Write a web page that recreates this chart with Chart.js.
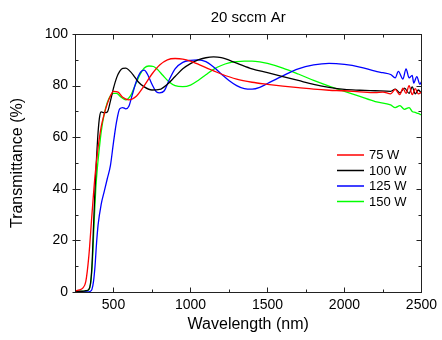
<!DOCTYPE html>
<html>
<head>
<meta charset="utf-8">
<script src="https://cdn.jsdelivr.net/npm/chart.js@4.4.1/dist/chart.umd.min.js"></script>
<style>
html,body{margin:0;padding:0;background:#fff;}
#wrap{width:442px;height:340px;}
</style>
</head>
<body>
<div id="wrap"><canvas id="c" width="442" height="340"></canvas></div>
<script>
// ---- data ----
const seriesLabels = ['75 W', '100 W', '125 W', '150 W'];
const seriesColors = ['#ff0000', '#000000', '#0000ff', '#00ff00'];

const wl75 = [250,280,300,320,340,360,380,400,420,440,460,480,500,530,560,600,650,700,750,800,850,900,950,1000,1100,1200,1300,1400,1500,1600,1700,1800,1900,2000,2100,2200,2250,2300,2330,2360,2380,2400,2420,2440,2460,2480,2500];
const t75  = [0.5,0.8,1.5,4,14,30,45,56,64,69,73,76,77.8,77.5,75.5,74.5,76,80,84.5,88,90,90.5,90.3,89.5,87,84.5,82.5,81.3,80.5,79.8,79.2,78.6,78.2,78,77.6,77.3,77.5,76.8,78.5,76.5,79,77,80,76.5,78.8,76.8,77.5];

const wl100 = [250,300,320,340,350,360,370,380,390,400,410,420,440,460,480,500,520,540,560,580,600,630,660,700,750,800,850,900,950,1000,1050,1100,1150,1200,1300,1400,1500,1600,1700,1800,1900,2000,2100,2200,2300,2330,2360,2390,2420,2440,2460,2480,2500];
const t100  = [0.3,0.3,0.5,1,3,10,25,40,52,62,68,69.8,69.5,69.8,74,79,83,85.5,86.7,86.8,86,84,81.5,79.5,78.3,78.5,80.5,83.5,86.5,88.5,90,90.8,91.1,90.8,88.7,86.5,85,83.5,82,80.5,79.3,78.5,78.2,78,77.8,78.6,77.2,79,77,79.5,76.8,78.3,77];

const wl125 = [250,330,350,360,370,380,390,400,420,440,460,480,500,520,540,560,580,600,620,650,680,700,720,750,780,800,830,860,900,950,1000,1050,1100,1150,1200,1250,1300,1350,1400,1450,1500,1600,1700,1800,1900,2000,2100,2200,2250,2300,2330,2350,2380,2400,2420,2440,2450,2470,2490,2500];
const t125  = [0,0,0.3,1,4,10,19,26,34,39,44,49,58,66,71,71.5,71,72,76,82,85.5,86,84.5,80.5,77.5,77.2,78,82,86.5,89,89.8,90,89.3,87.2,84.5,82,80,78.8,78.6,79.3,80.8,83.8,86.5,88,88.6,88.2,87.2,85.6,85,84.3,83,85.5,82.5,86.5,83,84,81,83.5,80.5,81.5];

const wl150 = [250,300,330,345,355,365,375,385,395,405,420,440,460,480,500,520,550,580,610,640,670,700,730,760,790,820,860,900,950,1000,1050,1100,1150,1200,1250,1300,1350,1400,1450,1500,1600,1700,1800,1900,2000,2100,2200,2300,2330,2360,2390,2420,2440,2460,2480,2500];
const t150  = [0.2,0.2,0.4,1.5,5,14,28,40,48,54,62,69,73.5,76,77,77,75.5,74.5,76,80,84,86.8,87.6,87.4,86,84,81.5,80,79.6,80.2,82,84.2,86.3,87.8,88.8,89.3,89.5,89.5,89.2,88.6,86.8,84.5,82,79.8,77.8,75.8,73.8,72.5,71.5,72.2,70.8,71.5,70,69.6,69.2,68.6];

const xMajorTicks = [500,1000,1500,2000,2500];
const xMinorTicks = [750,1250,1750,2250];
const yMajorTicks = [0,20,40,60,80,100];
const yMinorTicks = [10,30,50,70,90];

const allWl = [wl75, wl100, wl125, wl150];
const allT = [t75, t100, t125, t150];

const FONT = 'Arial, "Liberation Sans", Helvetica, sans-serif';

const datasets = seriesLabels.map((lab, i) => ({
  label: lab,
  data: allWl[i].map((w, j) => ({x: w, y: allT[i][j]})),
  borderColor: seriesColors[i],
  backgroundColor: seriesColors[i],
  borderWidth: 1.3,
  pointRadius: 0,
  cubicInterpolationMode: 'monotone',
  fill: false
}));

const frameTicks = {
  id: 'frameTicks',
  afterDatasetsDraw(chart) {
    const {ctx, chartArea: a, scales: {x, y}} = chart;
    ctx.save();
    ctx.strokeStyle = '#222';
    ctx.lineWidth = 1;
    ctx.strokeRect(Math.round(a.left) + 0.5, Math.round(a.top) + 0.5, Math.round(a.right - a.left), Math.round(a.bottom - a.top));
    const tick = (x1, y1, x2, y2) => { ctx.beginPath(); ctx.moveTo(x1, y1); ctx.lineTo(x2, y2); ctx.stroke(); };
    const B = Math.round(a.bottom) + 0.5, T = Math.round(a.top) + 0.5;
    const L = Math.round(a.left) + 0.5, R = Math.round(a.right) + 0.5;
    xMajorTicks.forEach(v => { const p = Math.round(x.getPixelForValue(v)) + 0.5; tick(p, B, p, B - 5); tick(p, T, p, T + 5); });
    xMinorTicks.forEach(v => { const p = Math.round(x.getPixelForValue(v)) + 0.5; tick(p, B, p, B - 3); tick(p, T, p, T + 3); });
    yMajorTicks.forEach(v => { const p = Math.round(y.getPixelForValue(v)) + 0.5; tick(L, p, L + 5, p); tick(R, p, R - 5, p); tick(L, p, L - 3, p); });
    yMinorTicks.forEach(v => { const p = Math.round(y.getPixelForValue(v)) + 0.5; tick(L, p, L + 3, p); tick(R, p, R - 3, p); });
    ctx.restore();
  }
};

const innerLegend = {
  id: 'innerLegend',
  afterDraw(chart) {
    const {ctx} = chart;
    ctx.save();
    ctx.font = '13px ' + FONT;
    ctx.textBaseline = 'middle';
    ctx.textAlign = 'left';
    chart.data.datasets.forEach((ds, i) => {
      const yy = 155 + i * 15.5;
      ctx.strokeStyle = ds.borderColor;
      ctx.lineWidth = 1.5;
      ctx.beginPath(); ctx.moveTo(337, yy); ctx.lineTo(364, yy); ctx.stroke();
      ctx.fillStyle = '#000';
      ctx.fillText(ds.label, 369, yy + 0.5);
    });
    ctx.restore();
  }
};

new Chart(document.getElementById('c'), {
  type: 'line',
  data: {datasets},
  options: {
    responsive: false,
    animation: false,
    layout: {padding: {top: 0, right: 17, bottom: 0, left: 0}},
    plugins: {
      legend: {display: false},
      tooltip: {enabled: false},
      title: {
        display: true,
        text: '20 sccm Ar',
        fullSize: false,
        color: '#000',
        font: {family: FONT, size: 15, weight: 'normal'},
        padding: {top: 9, bottom: 7}
      }
    },
    scales: {
      x: {
        type: 'linear',
        min: 250,
        max: 2500,
        afterFit(s) { s.height = 48; },
        afterBuildTicks(s) { s.ticks = xMajorTicks.map(v => ({value: v})); },
        grid: {display: false, drawTicks: false},
        border: {display: false},
        ticks: {color: '#000', padding: 5, maxRotation: 0, autoSkip: false, font: {family: FONT, size: 14}, callback: v => String(v)},
        title: {display: true, text: 'Wavelength (nm)', color: '#000', font: {family: FONT, size: 16}, padding: {top: 0, bottom: 5.4}}
      },
      y: {
        type: 'linear',
        min: 0,
        max: 100,
        afterFit(s) { s.width = 75; },
        afterBuildTicks(s) { s.ticks = yMajorTicks.map(v => ({value: v})); },
        grid: {display: false, drawTicks: false},
        border: {display: false},
        ticks: {color: '#000', padding: 7, font: {family: FONT, size: 14}, callback: v => String(v)},
        title: {display: true, text: 'Transmittance (%)', color: '#000', font: {family: FONT, size: 16}, padding: {top: 8.4, bottom: 0}}
      }
    }
  },
  plugins: [frameTicks, innerLegend]
});
</script>
</body>
</html>
